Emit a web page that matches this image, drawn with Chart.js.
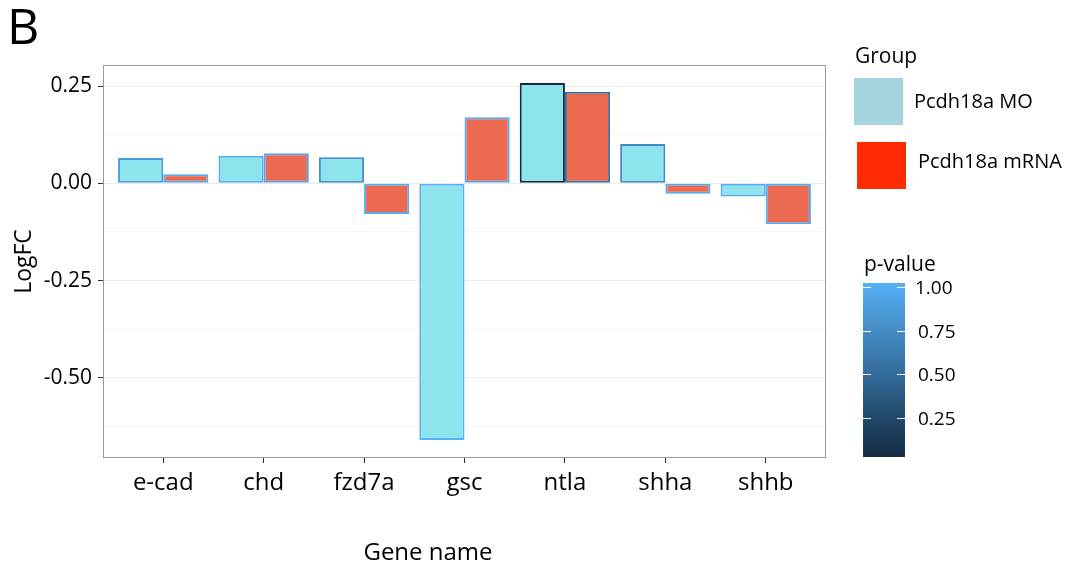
<!DOCTYPE html>
<html>
<head>
<meta charset="utf-8">
<script src="https://cdn.jsdelivr.net/npm/chart.js"></script>
<style>
html, body { margin: 0; padding: 0; background: #fff; }
</style>
</head>
<body>
<canvas id="geneChart" width="1070" height="571"></canvas>
<script>
var genes = ['e-cad', 'chd', 'fzd7a', 'gsc', 'ntla', 'shha', 'shhb'];
var groups = ['Pcdh18a MO', 'Pcdh18a mRNA'];
var logfcMO = [0.065, 0.071, 0.067, -0.660, 0.258, 0.101, -0.034];
var logfcMRNA = [0.023, 0.077, -0.079, 0.170, 0.235, -0.027, -0.105];
var pvalMO = [0.85, 0.97, 0.75, 1.00, 0.05, 0.72, 0.97];
var pvalMRNA = [0.97, 0.95, 0.97, 0.97, 0.55, 0.97, 0.97];
var yTicks = [-0.50, -0.25, 0.00, 0.25];
var pTicks = [0.25, 0.50, 0.75, 1.00];

var FONT = "'Open Sans', 'Noto Sans', sans-serif";
var pMin = Math.min.apply(null, pvalMO.concat(pvalMRNA));
var pMax = Math.max.apply(null, pvalMO.concat(pvalMRNA));

// ggplot default continuous colour scale: #132B43 -> #56B1F7
function pColor(p) {
    var t = (p - pMin) / (pMax - pMin);
    var lo = [19, 43, 67], hi = [86, 177, 247];
    var c = lo.map(function(v, i) { return Math.round(v + (hi[i] - v) * t); });
    return 'rgb(' + c.join(',') + ')';
}

function toPoints(vals) {
    return vals.map(function(v, i) { return { x: i, y: v }; });
}

function isMajor(v) {
    return yTicks.some(function(t) { return Math.abs(t - v) < 1e-6; });
}

var extras = {
    id: 'extras',
    afterDraw: function(chart) {
        var ctx = chart.ctx;
        var a = chart.chartArea;
        ctx.save();
        // panel border
        ctx.strokeStyle = '#9a9a9a';
        ctx.lineWidth = 1;
        ctx.strokeRect(a.left + 0.5, a.top + 0.5, a.right - a.left - 1, a.bottom - a.top - 1);

        ctx.fillStyle = '#000';
        ctx.textBaseline = 'middle';
        ctx.textAlign = 'left';
        // panel letter
        ctx.font = '50px ' + FONT;
        ctx.fillText('B', 7, 30);

        // x axis title (sits left of the panel centre in the original)
        ctx.textAlign = 'center';
        ctx.font = '24px ' + FONT;
        ctx.fillText('Gene name', 428, 553);
        ctx.textAlign = 'left';

        // group legend
        ctx.font = '21px ' + FONT;
        ctx.fillText('Group', 855, 57);
        ctx.fillStyle = '#A5D4E0';
        ctx.fillRect(854, 78, 49, 47);
        ctx.fillStyle = '#FF2A00';
        ctx.fillRect(857, 142, 49, 47);
        ctx.fillStyle = '#000';
        ctx.font = '20px ' + FONT;
        ctx.fillText(groups[0], 914, 102);
        ctx.fillText(groups[1], 918, 162);

        // p-value colourbar
        ctx.font = '21px ' + FONT;
        ctx.fillText('p-value', 864, 265);
        var bx = 863, bw = 42, bTop = 283, bBot = 457, half = 4.4;
        var g = ctx.createLinearGradient(0, bTop, 0, bBot);
        g.addColorStop(0, pColor(pMax));
        g.addColorStop(1, pColor(pMin));
        ctx.fillStyle = g;
        ctx.fillRect(bx, bTop, bw, bBot - bTop);
        ctx.strokeStyle = '#fff';
        ctx.lineWidth = 1;
        ctx.fillStyle = '#000';
        ctx.font = '19px ' + FONT;
        pTicks.forEach(function(p, i) {
            var y = bBot - half - (p - pMin) / (pMax - pMin) * (bBot - bTop - 2 * half);
            y = Math.round(y) + 0.5;
            ctx.beginPath();
            ctx.moveTo(bx, y); ctx.lineTo(bx + 8, y);
            ctx.moveTo(bx + bw - 8, y); ctx.lineTo(bx + bw, y);
            ctx.stroke();
            ctx.fillText(p.toFixed(2), bx + bw + (i === 3 ? 10 : 13), y + 1);
        });
        ctx.restore();
    }
};

var ctx = document.getElementById('geneChart').getContext('2d');
var chart = new Chart(ctx, {
    type: 'bar',
    data: {
        datasets: [{
            label: groups[0],
            data: toPoints(logfcMO),
            backgroundColor: '#8EE4EC',
            borderColor: pvalMO.map(pColor),
            borderWidth: 2,
            borderSkipped: false
        }, {
            label: groups[1],
            data: toPoints(logfcMRNA),
            backgroundColor: '#EC6A50',
            borderColor: pvalMRNA.map(pColor),
            borderWidth: 2,
            borderSkipped: false
        }]
    },
    options: {
        responsive: false,
        animation: false,
        devicePixelRatio: 1,
        categoryPercentage: 0.9,
        barPercentage: 1.0,
        layout: { padding: { top: 65, right: 244, left: 0, bottom: 0 } },
        plugins: { legend: { display: false }, tooltip: { enabled: false } },
        scales: {
            x: {
                type: 'linear',
                min: -0.6,
                max: 6.6,
                offset: false,
                afterFit: function(s) { s.height = 113; },
                border: { display: false },
                grid: { offset: false, drawOnChartArea: false, drawTicks: true, tickLength: 5, tickColor: '#333' },
                ticks: {
                    stepSize: 1,
                    includeBounds: false,
                    autoSkip: false,
                    maxRotation: 0,
                    padding: 6,
                    color: '#000',
                    font: { family: FONT, size: 24 },
                    callback: function(v) { return genes[v] || ''; }
                }
            },
            y: {
                min: -0.706,
                max: 0.304,
                afterFit: function(s) { s.width = 103; },
                border: { display: false },
                grid: {
                    tickLength: 5,
                    color: function(c) { return c.tick && isMajor(c.tick.value) ? '#ebebeb' : '#f5f5f5'; },
                    tickColor: function(c) { return c.tick && isMajor(c.tick.value) ? '#333' : 'rgba(0,0,0,0)'; }
                },
                ticks: {
                    stepSize: 0.125,
                    includeBounds: false,
                    padding: 6,
                    color: '#000',
                    font: { family: FONT, size: 21 },
                    callback: function(v) { return isMajor(v) ? v.toFixed(2) : ''; }
                },
                title: {
                    display: true,
                    text: 'LogFC',
                    color: '#000',
                    font: { family: FONT, size: 23 },
                    padding: { top: 11, bottom: 0 }
                }
            }
        }
    },
    plugins: [extras]
});
</script>
</body>
</html>
